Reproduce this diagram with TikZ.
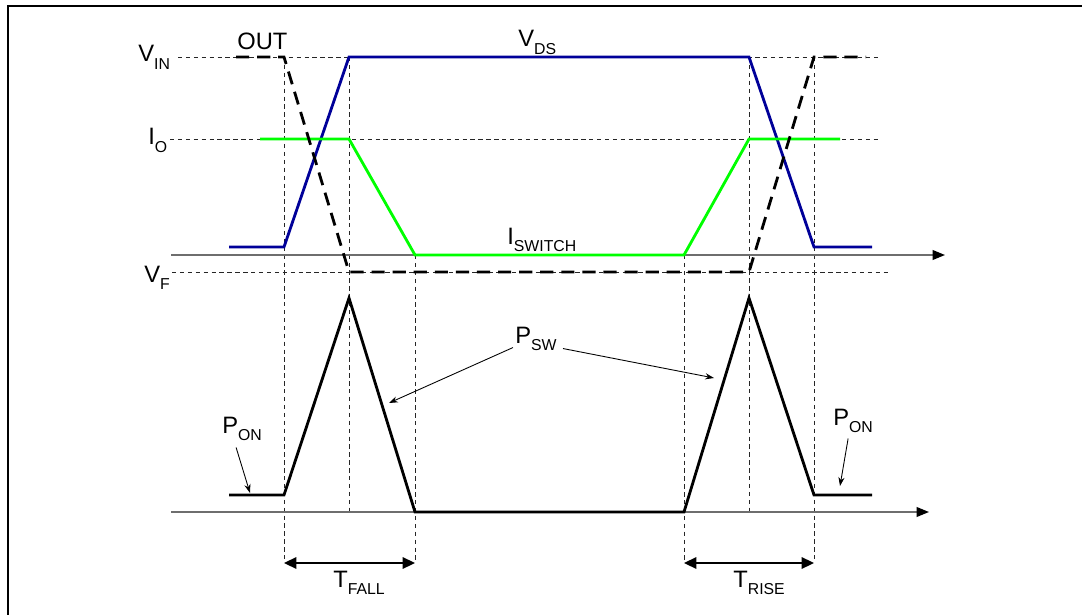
\documentclass[tikz,border=0pt]{standalone}
\usepackage{fontspec}
\setmainfont{Liberation Sans}
\usetikzlibrary{arrows.meta, positioning, calc}
\definecolor{vdsBlue}{HTML}{000099}
\definecolor{swGreen}{HTML}{00FF00}
\definecolor{axGray}{HTML}{6E6E6E}

% main letter with a lowered subscript
\newcommand{\sig}[2]{#1\raisebox{-4pt}{\fontsize{9}{9}\selectfont #2}}

\begin{document}
\begin{tikzpicture}[
    x=0.02cm, y=-0.02cm,
    guide/.style={line width=0.5pt, black!85, dash pattern=on 2.5pt off 2pt},
    axis/.style={axGray, line width=0.9pt, -{Triangle[length=7pt, width=5.5pt, color=black]}},
    wave/.style={line width=1.6pt, line join=miter},
    outwave/.style={wave, black, dash pattern=on 7.5pt off 4.5pt},
    lbl/.style={font=\fontsize{13.5}{13.5}\selectfont, inner sep=0pt, anchor=base west},
    pointer/.style={line width=0.5pt, -{Stealth[length=5pt, width=3.5pt]}},
    span/.style={line width=1pt, {Triangle[length=7pt, width=6.5pt]}-{Triangle[length=7pt, width=6.5pt]}},
]
    \useasboundingbox (0,0) rectangle (1082,615);

    % Frame
    \draw[line width=1.7pt] (8,620) -- (8,6) -- (1090,6);

    % Level guides
    \draw[guide] (178,57) -- (880,57);
    \draw[guide] (170,139) -- (880,139);
    \draw[guide] (172,272) -- (890,272);

    % Time guides
    \draw[guide] (284,57) -- (284,563);
    \draw[guide] (349,57) -- (349,512);
    \draw[guide] (415,255) -- (415,563);
    \draw[guide] (684,255) -- (684,563);
    \draw[guide] (749,57) -- (749,512);
    \draw[guide] (814,57) -- (814,563);

    % Axes
    \draw[axis] (171,255) -- (945,255);
    \draw[axis] (171,512) -- (929,512);

    % Waveforms
    \draw[wave, vdsBlue] (229,247) -- (284,247) -- (349,57) -- (749,57) -- (814,247) -- (872,247);
    \draw[wave, swGreen] (260,139) -- (349,139) -- (415,255) -- (684,255) -- (749,139) -- (840,139);
    \draw[outwave] (236,57) -- (284,57) -- (349,272) -- (749,272) -- (814,57) -- (866,57);
    \draw[wave, black] (229,495) -- (284,495) -- (349,298) -- (415,512) -- (684,512) -- (749,298) -- (814,495) -- (872,495);

    % Labels
    \node[lbl] (vin) at (138,62) {\sig{V}{IN}};
    \node[lbl] (out) at (237,50) {OUT};
    \node[lbl] (vds) at (518,47) {\sig{V}{DS}};
    \node[lbl] (io) at (148,145) {\sig{I}{O}};
    \node[lbl] (isw) at (507,244) {\sig{I}{SWITCH}};
    \node[lbl] (vf) at (144,282) {\sig{V}{F}};
    \node[lbl] (psw) at (515,343) {\sig{P}{SW}};
    \node[lbl] (ponL) at (222,433) {\sig{P}{ON}};
    \node[lbl] (ponR) at (833,425) {\sig{P}{ON}};
    \node[lbl] (tfall) at (333,587) {\sig{T}{FALL}};
    \node[lbl] (trise) at (733,587) {\sig{T}{RISE}};

    % Pointer ends
    \coordinate (swL) at (389,403);
    \coordinate (swR) at (714,378);
    \coordinate (onL) at (250,493);
    \coordinate (onR) at (840,486);
    \draw[pointer] ($(psw.south west)+(-2,-3)$) -- (swL);
    \draw[pointer] ($(psw.south east)+(6,-2)$) -- (swR);
    \draw[pointer] ($(ponL.south)+(-6,7)$) -- (onL);
    \draw[pointer] ($(ponR.south)+(-5,6)$) -- (onR);

    % Switching times
    \coordinate (fallA) at (284,563);
    \coordinate (fallB) at (415,563);
    \coordinate (riseA) at (684,563);
    \coordinate (riseB) at (814,563);
    \draw[span] (fallA) -- (fallB);
    \draw[span] (riseA) -- (riseB);
\end{tikzpicture}
\end{document}
